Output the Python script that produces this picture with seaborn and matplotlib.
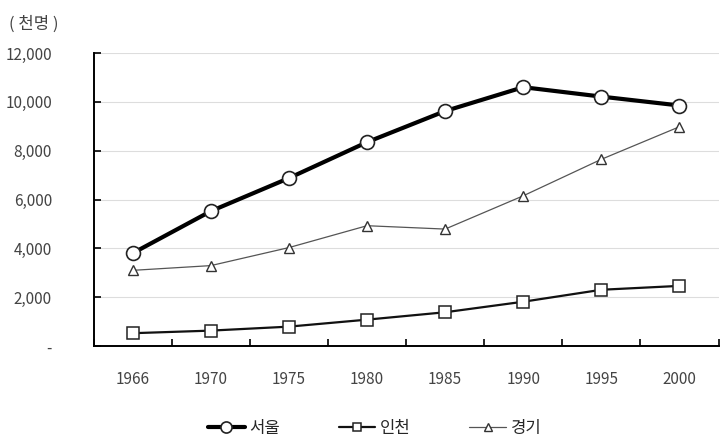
import numpy as np
import pandas as pd
import matplotlib
matplotlib.use("Agg")
import matplotlib.pyplot as plt
import seaborn as sns

years = ["1966", "1970", "1975", "1980", "1985", "1990", "1995", "2000"]
seoul = [3803, 5525, 6879, 8351, 9625, 10603, 10217, 9853]
incheon = [528, 634, 797, 1083, 1386, 1817, 2307, 2466]
gyeonggi = [3102, 3296, 4034, 4930, 4792, 6155, 7650, 8984]
series_names = ["서울", "인천", "경기"]

sns.set_theme(style="white")
plt.rcParams["font.family"] = ["Noto Sans CJK KR", "DejaVu Sans"]

fig = plt.figure(figsize=(7.2, 4.46), dpi=100)
ax = fig.add_axes([0.130, 0.224, 0.868, 0.657])

x = np.arange(len(years))
styles = [
    (seoul, dict(color="black", lw=3.0, marker="o", ms=10, mew=1.2, mfc="white", mec="#222222")),
    (incheon, dict(color="#111111", lw=1.6, marker="s", ms=8, mew=1.1, mfc="white", mec="#222222")),
    (gyeonggi, dict(color="#555555", lw=0.9, marker="^", ms=7.5, mew=1.0, mfc="white", mec="#333333")),
]
for name, (vals, st) in zip(series_names, styles):
    df = pd.DataFrame({"x": x, "y": vals})
    sns.lineplot(data=df, x="x", y="y", ax=ax, label=name, **st)

ax.set_xlim(-0.5, len(years) - 0.5)
ax.set_ylim(0, 12000)
ax.set_yticks(range(0, 12001, 2000))
ax.set_yticklabels(["-"] + [f"{v:,}" for v in range(2000, 12001, 2000)])
ax.set_xticks(x)
ax.set_xticklabels(years)
ax.set_xticks(np.arange(-0.5, len(years)), minor=True)
ax.tick_params(axis="x", which="major", bottom=False, pad=12, labelsize=11, colors="#444444")
ax.tick_params(axis="x", which="minor", bottom=True, length=5, width=1.2, direction="in", color="black")
ax.tick_params(axis="y", left=True, length=5, width=1.2, direction="in", pad=30,
               labelsize=11, labelcolor="#444444", color="black")
ax.grid(axis="y", color="#dddddd", lw=0.8)
ax.set_axisbelow(True)
for s in ["top", "right"]:
    ax.spines[s].set_visible(False)
for s in ["left", "bottom"]:
    ax.spines[s].set_color("black")
    ax.spines[s].set_linewidth(1.4)
ax.set_xlabel("")
ax.set_ylabel("")

fig.text(0.012, 0.935, "( 천명 )", fontsize=12, color="#444444")

ax.legend(loc="upper center", bbox_to_anchor=(0.45, -0.2), ncol=3, frameon=False,
          fontsize=12, handlelength=2.2, columnspacing=3.5, handletextpad=0.3,
          markerscale=0.8)

fig.savefig("out.png", dpi=100)
